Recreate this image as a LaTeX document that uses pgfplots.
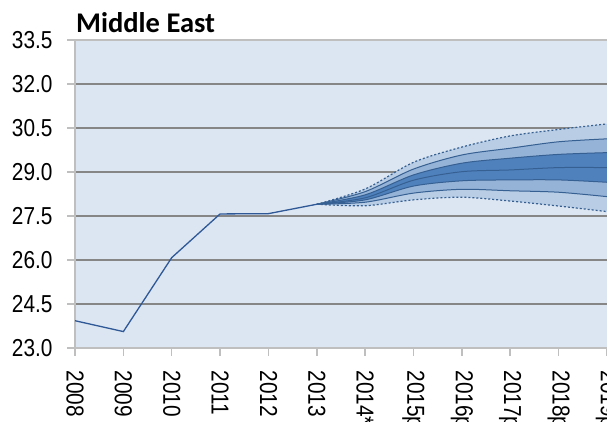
\documentclass[border=0pt]{standalone}
\usepackage{pgfplots}
\usepackage{pgfplotstable}
\pgfplotsset{compat=1.18}
\usepgfplotslibrary{fillbetween}
\usepackage{fontspec}
\newfontfamily\tickfont[FakeStretch=0.85]{Liberation Sans}
\newfontfamily\titlefont{Carlito}
\definecolor{bgblue}{RGB}{220,230,242}
\definecolor{axisgray}{RGB}{191,191,191}
\definecolor{gridgray}{RGB}{134,134,134}
\definecolor{bandA}{RGB}{185,205,229}
\definecolor{bandB}{RGB}{149,179,215}
\definecolor{bandC}{RGB}{79,129,189}
\definecolor{lineblue}{RGB}{54,96,146}
\definecolor{mainblue}{RGB}{46,88,150}

\pgfplotstableread{
x y
0 23.93
1 23.56
2 26.08
3 27.57
4 27.58
5 27.90
}\hist

\pgfplotstableread{
x ou mu iu c il ml ol
5 27.90 27.90 27.90 27.90 27.90 27.90 27.90
6 28.42 28.33 28.22 28.12 28.05 27.97 27.85
7 29.33 29.10 28.90 28.72 28.52 28.28 28.05
8 29.85 29.58 29.30 29.01 28.70 28.41 28.14
9 30.23 29.81 29.47 29.07 28.73 28.36 28.01
10 30.45 30.03 29.60 29.15 28.73 28.31 27.84
11 30.64 30.13 29.66 29.15 28.65 28.16 27.65
}\fan

\begin{document}
\begin{tikzpicture}
\begin{axis}[
  at={(75pt,74pt)}, anchor=south west, scale only axis,
  width=541.6pt, height=308pt,
  xmin=0, xmax=11.2, ymin=23, ymax=33.5,
  ytick={23,24.5,26,27.5,29,30.5,32,33.5},
  xtick={0,1,2,3,4,5,6,7,8,9,10,11},
  xticklabels={2008,2009,2010,2011,2012,2013,2014*,2015p,2016p,2017p,2018p,2019p},
  axis lines=box,
  axis line style={draw=axisgray, line width=1.5pt},
  tick style={draw=axisgray, line width=1.5pt},
  major tick length=8pt, tick align=outside,
  xtick pos=bottom, ytick pos=left,
  ymajorgrids, grid style={draw=gridgray, line width=1.5pt},
  axis background/.style={fill=bgblue},
  /pgf/number format/assume math mode=true,
  ticklabel style={font=\tickfont\fontsize{24.5}{30}\selectfont},
  yticklabel style={/pgf/number format/fixed, /pgf/number format/fixed zerofill, /pgf/number format/precision=1, xshift=-11pt},
  xticklabel style={rotate=-90, anchor=west},
  xticklabel shift=11pt,
]
\addplot[draw=none, name path=ou, smooth, forget plot] table[x=x,y=ou]{\fan};
\addplot[draw=none, name path=mu, smooth, forget plot] table[x=x,y=mu]{\fan};
\addplot[draw=none, name path=iu, smooth, forget plot] table[x=x,y=iu]{\fan};
\addplot[draw=none, name path=il, smooth, forget plot] table[x=x,y=il]{\fan};
\addplot[draw=none, name path=ml, smooth, forget plot] table[x=x,y=ml]{\fan};
\addplot[draw=none, name path=ol, smooth, forget plot] table[x=x,y=ol]{\fan};
\addplot[fill=bandA, draw=none] fill between[of=ou and ol];
\addplot[fill=bandB, draw=none] fill between[of=mu and ml];
\addplot[fill=bandC, draw=none] fill between[of=iu and il];
\addplot[lineblue, line width=1.2pt, dash pattern=on 2pt off 2pt, smooth] table[x=x,y=ou]{\fan};
\addplot[lineblue, line width=1.2pt, dash pattern=on 2pt off 2pt, smooth] table[x=x,y=ol]{\fan};
\addplot[lineblue, line width=1pt, smooth] table[x=x,y=mu]{\fan};
\addplot[lineblue, line width=1pt, smooth] table[x=x,y=ml]{\fan};
\addplot[lineblue, line width=1pt, smooth] table[x=x,y=iu]{\fan};
\addplot[lineblue, line width=1pt, smooth] table[x=x,y=il]{\fan};
\addplot[lineblue, line width=1pt, smooth] table[x=x,y=c]{\fan};
\addplot[mainblue, line width=1.3pt] table[x=x,y=y]{\hist};
\end{axis}
\node[anchor=base west, inner sep=0pt, font=\titlefont\bfseries\fontsize{28.5}{34}\selectfont] at (76pt,389pt) {Middle East};
\pgfresetboundingbox
\useasboundingbox (0,0) rectangle (607pt,422pt);
\end{tikzpicture}
\end{document}
